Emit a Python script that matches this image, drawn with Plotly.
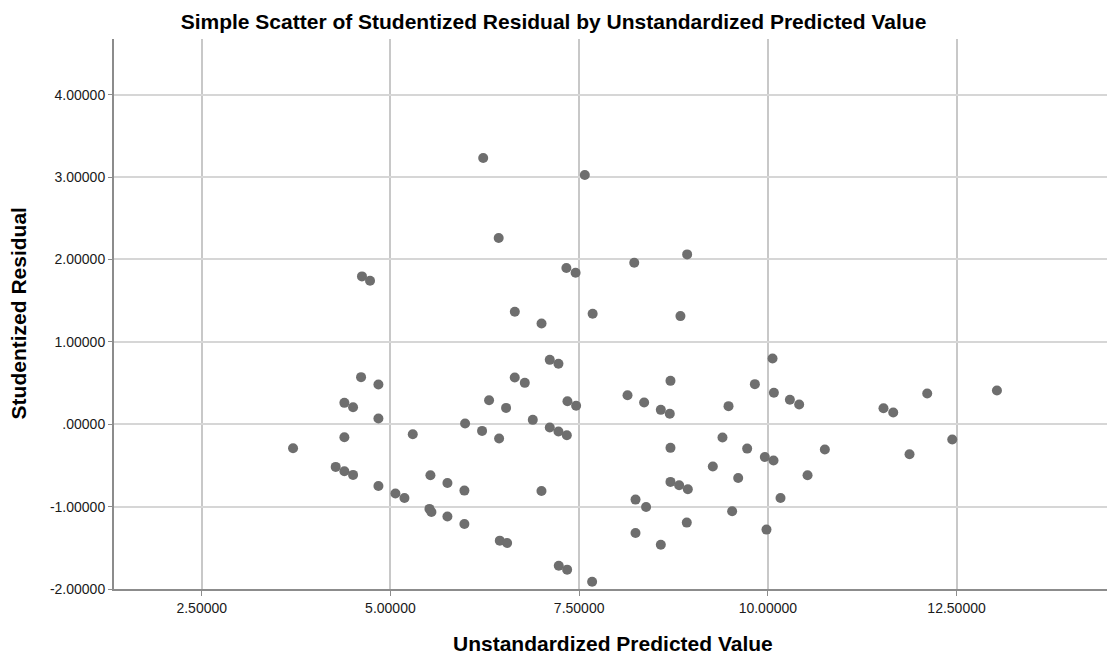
import plotly.graph_objects as go

# Unstandardized predicted values (x) and studentized residuals (y)
predicted = [
    3.710, 4.275, 4.390, 4.390, 4.390, 4.505, 4.505, 4.611, 4.623, 4.730,
    4.841, 4.841, 4.841, 5.066, 5.186, 5.296, 5.517, 5.530, 5.543, 5.755,
    5.755, 5.989, 5.980, 5.980, 6.214, 6.229, 6.307, 6.434, 6.440, 6.449,
    6.532, 6.546, 6.647, 6.648, 6.780, 6.886, 7.001, 7.002, 7.111, 7.111,
    7.226, 7.226, 7.230, 7.331, 7.337, 7.341, 7.345, 7.453, 7.460, 7.575,
    7.672, 7.679, 8.141, 8.230, 8.247, 8.247, 8.361, 8.387, 8.582, 8.582,
    8.701, 8.710, 8.710, 8.710, 8.825, 8.842, 8.926, 8.931, 8.940, 9.271,
    9.399, 9.479, 9.527, 9.607, 9.726, 9.828, 9.960, 9.982, 10.062, 10.075,
    10.080, 10.168, 10.292, 10.415, 10.526, 10.755, 11.532, 11.661, 11.877, 12.111,
    12.443, 13.035,
]
residual = [
    -0.291, -0.518, 0.259, -0.158, -0.571, 0.206, -0.615, 0.571, 1.794, 1.741,
    0.482, 0.069, -0.749, -0.842, -0.895, -0.121, -1.028, -0.619, -1.065, -0.713,
    -1.121, 0.008, -0.806, -1.211, -0.081, 3.231, 0.291, 2.259, -0.174, -1.413,
    0.198, -1.441, 0.567, 1.364, 0.502, 0.053, -0.810, 1.223, 0.781, -0.040,
    0.733, -0.089, -1.717, 1.895, -0.134, -1.765, 0.279, 1.838, 0.223, 3.024,
    -1.911, 1.340, 0.352, 1.960, -0.915, -1.320, 0.263, -1.004, 0.174, -1.462,
    0.126, 0.526, -0.287, -0.700, -0.741, 1.312, -1.194, 2.061, -0.789, -0.514,
    -0.162, 0.219, -1.057, -0.652, -0.296, 0.486, -0.397, -1.279, 0.798, -0.441,
    0.381, -0.895, 0.296, 0.239, -0.619, -0.308, 0.194, 0.142, -0.364, 0.372,
    -0.186, 0.409,
]

x_tickvals = [2.5, 5.0, 7.5, 10.0, 12.5]
x_ticktext = ["2.50000", "5.00000", "7.50000", "10.00000", "12.50000"]
y_tickvals = [-2, -1, 0, 1, 2, 3, 4]
y_ticktext = ["-2.00000", "-1.00000", ".00000", "1.00000", "2.00000", "3.00000", "4.00000"]

title_text = "Simple Scatter of Studentized Residual by Unstandardized Predicted Value"
x_title = "Unstandardized Predicted Value"
y_title = "Studentized Residual"

FONT = "Arial, Liberation Sans, sans-serif"

fig = go.Figure()
fig.add_trace(go.Scatter(
    x=predicted, y=residual, mode="markers",
    marker=dict(size=10, color="#6e6e6e", line=dict(width=0)),
    showlegend=False, hoverinfo="x+y",
))

fig.update_layout(
    width=1107, height=656,
    margin=dict(l=114, r=0, t=39, b=67),
    paper_bgcolor="white", plot_bgcolor="white",
    font=dict(family=FONT, color="#000000"),
    title=dict(text=title_text, x=0.5, xref="container", xanchor="center",
               y=1 - 22 / 656, yref="container", yanchor="middle",
               font=dict(family=FONT, size=21, weight="bold", color="#000000")),
    xaxis=dict(
        range=[1.338, 14.493], tickmode="array", tickvals=x_tickvals, ticktext=x_ticktext,
        showgrid=True, gridcolor="#c8c8c8", gridwidth=1.5, zeroline=False,
        showline=True, linecolor="#8c8c8c", linewidth=2,
        ticks="outside", ticklen=5, tickwidth=1, tickcolor="#8c8c8c",
        tickfont=dict(family=FONT, size=14, color="#1a1a1a"), fixedrange=True,
    ),
    yaxis=dict(
        range=[-2.0, 4.675], tickmode="array", tickvals=y_tickvals, ticktext=y_ticktext,
        showgrid=True, gridcolor="#d6d6d6", gridwidth=2, zeroline=False,
        showline=True, linecolor="#8c8c8c", linewidth=2,
        ticks="outside", ticklen=4, tickwidth=1, tickcolor="#8c8c8c",
        tickfont=dict(family=FONT, size=14, color="#1a1a1a"), fixedrange=True,
    ),
    annotations=[
        dict(text=x_title, xref="paper", yref="paper", x=0.503, y=0,
             xanchor="center", yanchor="middle", yshift=-54, showarrow=False,
             font=dict(family=FONT, size=21, weight="bold", color="#000000")),
        dict(text=y_title, xref="paper", yref="paper", x=0, y=0.501,
             xanchor="center", yanchor="middle", xshift=-96, textangle=-90,
             showarrow=False,
             font=dict(family=FONT, size=21, weight="bold", color="#000000")),
    ],
)

fig.write_html("out.html")
